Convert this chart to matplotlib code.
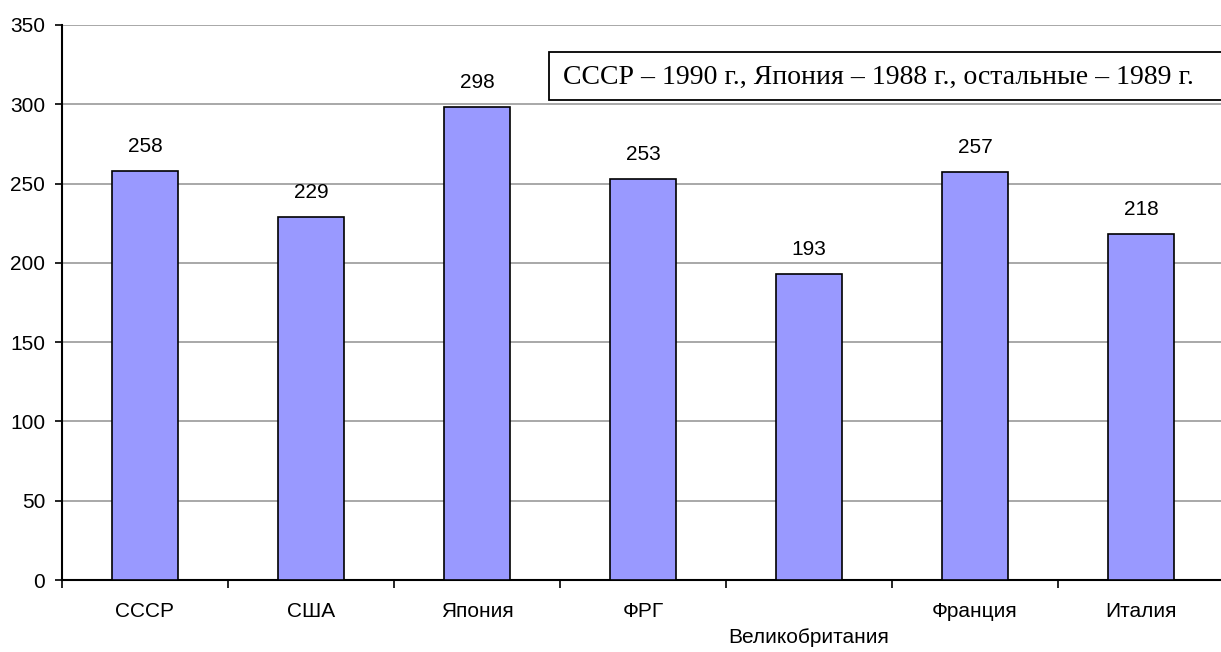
import matplotlib
matplotlib.use('Agg')
import matplotlib.pyplot as plt
from matplotlib.patches import Rectangle

plt.rcParams['font.family'] = ['Liberation Sans', 'DejaVu Sans']

countries = ["СССР", "США", "Япония", "ФРГ", "Великобритания", "Франция", "Италия"]
values = [258, 229, 298, 253, 193, 257, 218]
note = "СССР – 1990 г., Япония – 1988 г., остальные – 1989 г."

W, H = 1221, 652
fig = plt.figure(figsize=(W / 100, H / 100), dpi=100)
ax = fig.add_axes([62 / W, 1 - 580 / H, 1 - 62 / W + 3 / W, (580 - 25) / H])

x = list(range(len(countries)))
ax.bar(x, values, width=0.4, color='#9999FF', edgecolor='black', linewidth=1.2, zorder=3)
for xi, v in zip(x, values):
    ax.annotate(str(v), (xi, v), xytext=(0, 11), textcoords='offset points',
                ha='center', va='bottom', fontsize=15)

ax.set_ylim(0, 350)
ax.set_yticks(range(0, 351, 50))
ax.set_xlim(-0.5, 6.5)
ax.yaxis.grid(True, color='#999999', linewidth=1.2, zorder=0)
ax.tick_params(axis='y', labelsize=15, length=5, width=1.2, direction='out', pad=7)

# category boundary ticks, labels staggered like the original
ax.set_xticks([i - 0.5 for i in range(len(countries) + 1)])
ax.set_xticklabels([])
ax.tick_params(axis='x', length=6, width=1.2, direction='out')
for xi, name in zip(x, countries):
    y = -0.103 if name == "Великобритания" else -0.056
    ax.text(xi, y, name, transform=ax.get_xaxis_transform(), ha='center', va='center',
            fontsize=15)

for s in ['top', 'right']:
    ax.spines[s].set_visible(False)
ax.spines['left'].set_linewidth(1.5)
ax.spines['bottom'].set_linewidth(1.5)

fig.patches.append(Rectangle((549 / W, 1 - 100 / H), (W - 549 + 5) / W, 48 / H,
                             transform=fig.transFigure, facecolor='white',
                             edgecolor='black', linewidth=1.3, zorder=5))
fig.text(563 / W, 1 - 77 / H, note, ha='left', va='center', fontsize=20,
         family=['Liberation Serif', 'DejaVu Serif'], zorder=6)

fig.savefig('out.png', dpi=100)
